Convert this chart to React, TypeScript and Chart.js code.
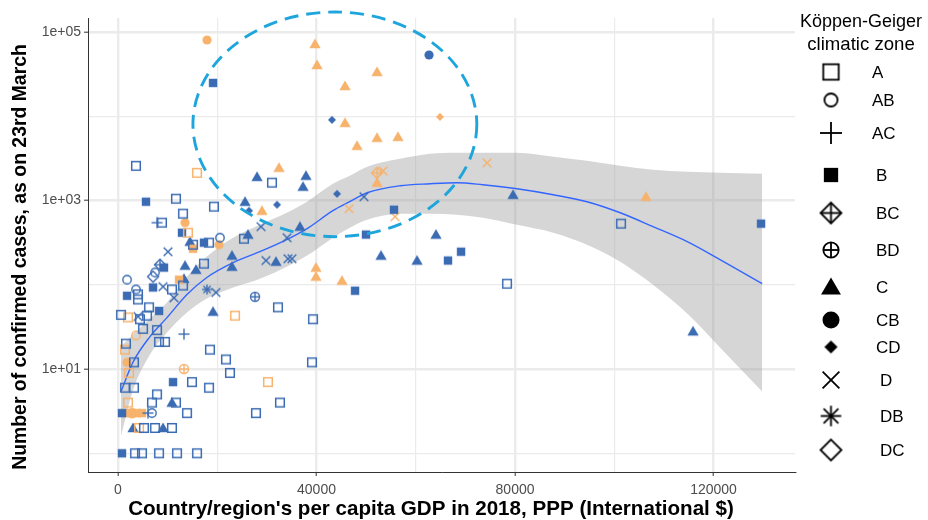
import { useEffect, useRef } from 'react';
import { Chart, registerables } from 'chart.js';

Chart.register(...registerables);

type P = [number, number];

// ---------- data: [GDP per capita PPP, confirmed cases] ----------
const zones = ['A', 'AB', 'AC', 'B', 'BC', 'BD', 'C', 'CB', 'CD', 'D', 'DB', 'DC'];

const a_blue: P[] = [[3627, 2580], [31031, 1630], [11687, 1050], [19344, 845], [8866, 546], [13098, 698], [15113, 299], [18337, 316], [25389, 352], [17329, 178], [13098, 98], [10881, 88], [4030, 77], [4030, 67], [32240, 54], [39293, 39], [6247, 54], [605, 44], [4433, 39], [5844, 43], [5038, 30], [7859, 29], [8262, 21], [9471, 21], [1612, 20], [18538, 17], [21762, 13], [39091, 12], [3224, 12], [22568, 9], [14911, 7], [18337, 6], [1411, 6], [3224, 6], [32643, 4], [27807, 3], [7859, 5], [6851, 4], [11687, 4], [13904, 3], [5239, 2], [7456, 2], [10881, 2], [3426, 1], [4836, 1], [8262, 1], [11889, 1], [15919, 1], [78384, 103], [101355, 531]];
const a_orange: P[] = [[15919, 2130], [14105, 415], [23576, 43], [2015, 41], [1411, 17], [2217, 9], [30225, 7], [2015, 4], [4232, 2]];
const ab_blue: P[] = [[20553, 362], [1814, 115], [3627, 88], [7456, 140], [6851, 3]];
const ab_orange: P[] = [[3627, 25]];
const ac_blue: P[] = [[7859, 546], [13299, 26], [6045, 3]];
const ac_orange: P[] = [];
const b_blue: P[] = [[19143, 24900], [5642, 968], [12896, 415], [17329, 316], [9269, 160], [7053, 93], [1814, 74], [8262, 49], [11083, 7], [806, 3], [806, 1], [55614, 778], [49972, 394], [66495, 194], [69115, 247], [47756, 85], [129565, 531]];
const b_orange: P[] = [[15113, 268], [12292, 115], [1411, 3], [2620, 3], [3829, 3], [4836, 3]];
const bc_blue: P[] = [[8463, 173]];
const bc_orange: P[] = [[52189, 2130]];
const bd_blue: P[] = [[27606, 72]];
const bd_orange: P[] = [[13299, 10], [2821, 3]];
const c_blue: P[] = [[28009, 1910], [37882, 1970], [37278, 1460], [25591, 968], [36673, 490], [26195, 394], [22971, 222], [22971, 164], [31837, 188], [13501, 169], [15717, 151], [14508, 325], [13299, 118], [19143, 48], [10881, 4], [3023, 2], [9068, 2], [79593, 1170], [64077, 394], [52995, 222], [60249, 194], [115863, 28]];
const c_orange: P[] = [[39696, 72100], [40099, 40600], [52189, 33600], [45741, 22900], [45741, 8350], [52189, 5550], [56420, 5700], [48159, 4460], [32442, 2450], [29016, 757], [52189, 1630], [39897, 160], [39897, 125], [45136, 112], [106392, 1110]];
const cb_blue: P[] = [[62667, 53400]];
const cb_orange: P[] = [[17934, 80400], [13501, 546], [20352, 299], [1814, 12]];
const cd_blue: P[] = [[43121, 9060], [26397, 757], [32039, 891], [44129, 1200]];
const cd_orange: P[] = [[64883, 9840]];
const d_blue: P[] = [[10075, 247], [28815, 490], [34054, 362], [49569, 1110], [29822, 194], [34255, 204], [35061, 204], [9068, 95], [11284, 70], [19747, 81], [4030, 42]];
const d_orange: P[] = [[53398, 2250], [74354, 2800], [46547, 800], [55816, 643]];
const db_blue: P[] = [[17934, 88]];
const db_orange: P[] = [];
const dc_blue: P[] = [[7053, 125]];
const dc_orange: P[] = [];

// loess fit and its confidence band
const smoothGdp = [600, 3000, 6450, 9870, 13900, 17900, 23200, 28600, 34000, 38100, 43300, 46700, 50200, 56800, 62900, 68300, 73500, 80400, 87700, 94500, 101200, 107800, 114700, 121300, 129800];
const smoothFit = [5.4, 12.0, 24.3, 40.8, 76.6, 122, 183, 247, 343, 463, 757, 968, 1236, 1496, 1581, 1626, 1538, 1380, 1172, 968, 716, 490, 325, 199, 103];
const smoothHi = [18.5, 25.7, 39.8, 61.5, 125, 216, 362, 516, 716, 968, 1581, 1968, 2512, 3126, 3590, 3683, 3683, 3683, 3304, 2965, 2582, 2317, 2193, 2133, 2080];
const smoothLo = [1.59, 5.57, 14.9, 27.2, 46.9, 68.6, 92.7, 118, 164, 222, 362, 476, 593, 698, 698, 679, 625, 516, 415, 299, 188, 100, 45.6, 18.0, 5.43];

// highlighted region (ellipse): GDP left/centre/right, cases top/centre/bottom
const ellipseGdp = [15100, 43700, 72300];
const ellipseCases = [172600, 8020, 372];

// axes
const xGridValues = [0, 20000, 40000, 60000, 80000, 100000, 120000];
const xLabelValues = [0, 40000, 80000, 120000];
const yGridValues = [1, 10, 100, 1000, 10000, 100000];
const yLabelValues = [10, 1000, 100000];

const xTitle = "Country/region's per capita GDP in 2018, PPP (International $)";
const yTitle = 'Number of confirmed cases, as on 23rd March';
const legendTitle = ['Köppen-Geiger', 'climatic zone'];

// ---------- styling ----------
const BLUE = '#3b6cb3';
const ORANGE = '#f7b26c';
const FONT = '"Liberation Sans", Arial, Helvetica, sans-serif';
const legendY = [72, 100, 133, 175, 213, 250, 287, 320, 347, 380, 416, 450];
const legendLabelX = [872, 872, 872, 876, 876, 876, 876, 876, 876, 880, 880, 880];
const legendScale = [1.8, 1.55, 2.0, 1.7, 1.9, 1.7, 1.75, 1.85, 1.65, 1.95, 2.05, 1.9];

const blueGroups: P[][] = [a_blue, ab_blue, ac_blue, b_blue, bc_blue, bd_blue, c_blue, cb_blue, cd_blue, d_blue, db_blue, dc_blue];
const orangeGroups: P[][] = [a_orange, ab_orange, ac_orange, b_orange, bc_orange, bd_orange, c_orange, cb_orange, cd_orange, d_orange, db_orange, dc_orange];

function drawShape(g: CanvasRenderingContext2D, shape: string, cx: number, cy: number, k: number, color: string) {
  g.save();
  g.strokeStyle = color;
  g.fillStyle = color;
  g.lineWidth = 1.4 * Math.min(k, 1.3);
  g.lineCap = 'butt';
  const line = (x1: number, y1: number, x2: number, y2: number) => {
    g.beginPath();
    g.moveTo(x1, y1);
    g.lineTo(x2, y2);
    g.stroke();
  };
  const diamond = (h: number) => {
    g.beginPath();
    g.moveTo(cx, cy - h);
    g.lineTo(cx + h, cy);
    g.lineTo(cx, cy + h);
    g.lineTo(cx - h, cy);
    g.closePath();
  };
  switch (shape) {
    case 'A': {
      const h = 4.3 * k;
      g.lineWidth = 1.5 * Math.min(k, 1.2);
      g.strokeRect(cx - h, cy - h, 2 * h, 2 * h);
      break;
    }
    case 'AB': {
      g.beginPath();
      g.arc(cx, cy, 4.2 * k, 0, Math.PI * 2);
      g.stroke();
      break;
    }
    case 'AC': {
      const h = 5.5 * k;
      line(cx - h, cy, cx + h, cy);
      line(cx, cy - h, cx, cy + h);
      break;
    }
    case 'B': {
      const h = 4.2 * k;
      g.fillRect(cx - h, cy - h, 2 * h, 2 * h);
      break;
    }
    case 'BC': {
      const h = 5.5 * k;
      diamond(h);
      g.stroke();
      line(cx - h, cy, cx + h, cy);
      line(cx, cy - h, cx, cy + h);
      break;
    }
    case 'BD': {
      const r = 4.5 * k;
      g.beginPath();
      g.arc(cx, cy, r, 0, Math.PI * 2);
      g.stroke();
      line(cx - r, cy, cx + r, cy);
      line(cx, cy - r, cx, cy + r);
      break;
    }
    case 'C': {
      const h = 5.4 * k;
      g.beginPath();
      g.moveTo(cx, cy - h);
      g.lineTo(cx + h * 1.05, cy + h * 0.8);
      g.lineTo(cx - h * 1.05, cy + h * 0.8);
      g.closePath();
      g.fill();
      break;
    }
    case 'CB': {
      g.beginPath();
      g.arc(cx, cy, 4.6 * k, 0, Math.PI * 2);
      g.fill();
      break;
    }
    case 'CD': {
      diamond(4 * k);
      g.fill();
      break;
    }
    case 'D': {
      const h = 4.3 * k;
      line(cx - h, cy - h, cx + h, cy + h);
      line(cx - h, cy + h, cx + h, cy - h);
      break;
    }
    case 'DB': {
      const h = 5 * k;
      const d = 3.6 * k;
      line(cx - h, cy, cx + h, cy);
      line(cx, cy - h, cx, cy + h);
      line(cx - d, cy - d, cx + d, cy + d);
      line(cx - d, cy + d, cx + d, cy - d);
      break;
    }
    case 'DC': {
      diamond(5.5 * k);
      g.stroke();
      break;
    }
  }
  g.restore();
}

function makeMarker(shape: string, color: string, k: number): HTMLCanvasElement {
  const size = Math.ceil(16 * k) + 2;
  const c = document.createElement('canvas');
  c.width = size;
  c.height = size;
  const g = c.getContext('2d')!;
  drawShape(g, shape, size / 2, size / 2, k, color);
  return c;
}

const fmtExp = (v: number) => {
  const e = Math.round(Math.log10(v));
  return `1e+${e < 10 ? '0' + e : e}`;
};

export default function App() {
  const ref = useRef<HTMLCanvasElement>(null);

  useEffect(() => {
    const canvas = ref.current!;
    const datasets: any[] = [];

    zones.forEach((z, i) => {
      const pairs: [P[], string][] = [
        [blueGroups[i], BLUE],
        [orangeGroups[i], ORANGE],
      ];
      pairs.forEach(([pts, col]) => {
        if (!pts.length) return;
        datasets.push({
          type: 'scatter',
          label: z,
          data: pts.map(([x, y]) => ({ x, y })),
          pointStyle: makeMarker(z, col, 1),
          pointRadius: 6,
          pointHoverRadius: 6,
          order: 0,
        });
      });
    });

    datasets.push({
      type: 'line',
      label: 'loess',
      data: smoothGdp.map((x, i) => ({ x, y: smoothFit[i] })),
      borderColor: '#3366ff',
      borderWidth: 1.4,
      pointRadius: 0,
      fill: false,
      showLine: true,
      cubicInterpolationMode: 'monotone',
      order: 1,
    });
    datasets.push({
      type: 'line',
      label: 'ci-high',
      data: smoothGdp.map((x, i) => ({ x, y: smoothHi[i] })),
      borderColor: 'transparent',
      borderWidth: 1,
      pointRadius: 0,
      showLine: true,
      fill: '+1',
      backgroundColor: 'rgba(153,153,153,0.4)',
      cubicInterpolationMode: 'monotone',
      order: 2,
    });
    datasets.push({
      type: 'line',
      label: 'ci-low',
      data: smoothGdp.map((x, i) => ({ x, y: smoothLo[i] })),
      borderColor: 'transparent',
      borderWidth: 1,
      pointRadius: 0,
      showLine: true,
      fill: false,
      cubicInterpolationMode: 'monotone',
      order: 2,
    });

    const legendMarkers = zones.map((z, i) => makeMarker(z, '#000', legendScale[i]));

    const overlay = {
      id: 'overlay',
      afterDatasetsDraw(chart: any) {
        const { ctx, scales } = chart;
        const xs = scales.x;
        const ys = scales.y;
        const left = xs.getPixelForValue(ellipseGdp[0]);
        const right = xs.getPixelForValue(ellipseGdp[2]);
        const top = ys.getPixelForValue(ellipseCases[0]);
        const bottom = ys.getPixelForValue(ellipseCases[2]);
        const cx = xs.getPixelForValue(ellipseGdp[1]);
        const cy = ys.getPixelForValue(ellipseCases[1]);
        ctx.save();
        ctx.strokeStyle = '#1ea5dc';
        ctx.lineWidth = 2.9;
        ctx.setLineDash([14, 8]);
        ctx.beginPath();
        ctx.ellipse(cx, cy, (right - left) / 2, (bottom - top) / 2, 0, 0, Math.PI * 2);
        ctx.stroke();
        ctx.restore();
      },
      afterDraw(chart: any) {
        const { ctx } = chart;
        ctx.save();
        ctx.fillStyle = '#000';
        // axis titles
        ctx.textAlign = 'center';
        ctx.textBaseline = 'middle';
        ctx.font = `bold 20.6px ${FONT}`;
        ctx.fillText(xTitle, 431, 509);
        ctx.save();
        ctx.font = `bold 19.4px ${FONT}`;
        ctx.translate(21, 257);
        ctx.rotate(-Math.PI / 2);
        ctx.fillText(yTitle, 0, 0);
        ctx.restore();
        // legend
        ctx.font = `18px ${FONT}`;
        ctx.textAlign = 'center';
        ctx.fillText(legendTitle[0], 861, 22);
        ctx.font = `18.6px ${FONT}`;
        ctx.fillText(legendTitle[1], 861, 45);
        ctx.font = `17px ${FONT}`;
        ctx.textAlign = 'left';
        zones.forEach((z, i) => {
          const m = legendMarkers[i];
          ctx.drawImage(m, 831 - m.width / 2, legendY[i] - m.height / 2);
          ctx.fillText(z, legendLabelX[i], legendY[i] + 1);
        });
        ctx.restore();
      },
    };

    const chart = new Chart(canvas, {
      type: 'scatter',
      data: { datasets },
      options: {
        responsive: false,
        animation: false,
        events: [],
        layout: { padding: { left: 0, right: 133, top: 18, bottom: 0 } },
        plugins: { legend: { display: false }, tooltip: { enabled: false } },
        scales: {
          x: {
            type: 'linear',
            min: -6045,
            max: 136416,
            afterBuildTicks: (s: any) => {
              s.ticks = xGridValues.map((v) => ({ value: v }));
            },
            afterFit: (s: any) => {
              s.height = 48;
            },
            ticks: {
              autoSkip: false,
              maxRotation: 0,
              padding: 6,
              color: '#4d4d4d',
              font: { family: FONT, size: 14 },
              callback: (v: any) => (xLabelValues.includes(Number(v)) ? String(v) : ''),
            },
            grid: {
              color: '#ebebeb',
              lineWidth: (c: any) => (xLabelValues.includes(c.tick?.value) ? 2.4 : 1.2),
              tickLength: 4,
              tickWidth: 1,
              tickColor: (c: any) => (xLabelValues.includes(c.tick?.value) ? '#333' : 'rgba(0,0,0,0)'),
            },
            border: { display: true, color: '#333', width: 1 },
          },
          y: {
            type: 'logarithmic',
            min: 0.612,
            max: 146600,
            afterBuildTicks: (s: any) => {
              s.ticks = yGridValues.map((v) => ({ value: v }));
            },
            afterFit: (s: any) => {
              s.width = 88;
            },
            ticks: {
              autoSkip: false,
              padding: 3,
              color: '#4d4d4d',
              font: { family: FONT, size: 14 },
              callback: (v: any) => (yLabelValues.includes(Number(v)) ? fmtExp(Number(v)) : ''),
            },
            grid: {
              color: '#ebebeb',
              lineWidth: (c: any) => (yLabelValues.includes(c.tick?.value) ? 2.4 : 1.2),
              tickLength: 4,
              tickWidth: 1,
              tickColor: (c: any) => (yLabelValues.includes(c.tick?.value) ? '#333' : 'rgba(0,0,0,0)'),
            },
            border: { display: true, color: '#333', width: 1 },
          },
        },
      } as any,
      plugins: [overlay],
    });

    return () => chart.destroy();
  }, []);

  return (
    <div style={{ position: 'absolute', left: 0, top: 0, width: 928, height: 520, background: '#fff' }}>
      <canvas ref={ref} width={928} height={520} style={{ display: 'block', width: 928, height: 520 }} />
    </div>
  );
}
